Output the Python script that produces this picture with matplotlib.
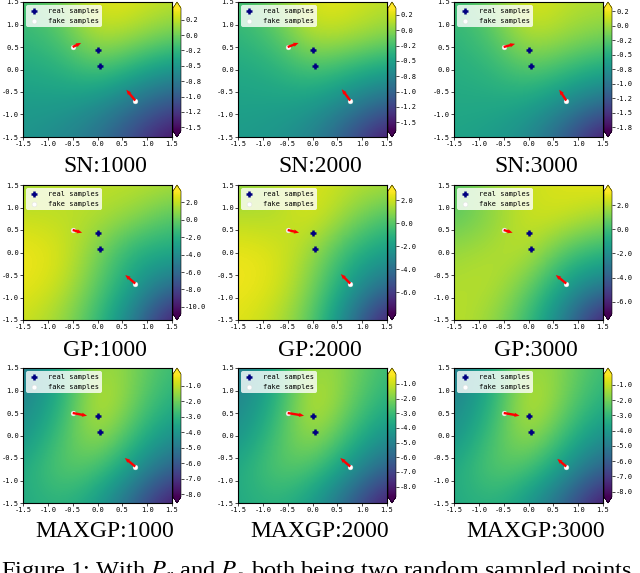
import numpy as np
import matplotlib
matplotlib.use('Agg')
import matplotlib.pyplot as plt
from matplotlib.ticker import MultipleLocator, FormatStrFormatter

# coarse grid of the discriminator value
grid_x = [-1.5, -0.75, 0.0, 0.75, 1.5]
grid_y = [1.5, 0.75, 0.0, -0.75, -1.5]

sn1000 = [[-0.16, 0.00, 0.38, 0.34, 0.24],
          [-0.24, -0.12, 0.24, 0.14, 0.00],
          [-0.36, -0.30, -0.12, -0.32, -0.52],
          [-0.46, -0.46, -0.56, -0.80, -1.06],
          [-0.52, -0.62, -0.80, -1.16, -1.52]]
sn2000 = [[-0.28, -0.04, 0.30, 0.26, 0.16],
          [-0.34, -0.20, 0.16, 0.12, 0.00],
          [-0.44, -0.38, -0.20, -0.34, -0.48],
          [-0.50, -0.50, -0.54, -0.74, -1.00],
          [-0.54, -0.60, -0.74, -1.14, -1.58]]
sn3000 = [[-0.38, -0.16, 0.24, 0.09, 0.05],
          [-0.44, -0.29, 0.09, -0.02, -0.12],
          [-0.50, -0.44, -0.23, -0.38, -0.54],
          [-0.54, -0.54, -0.59, -0.80, -1.07],
          [-0.59, -0.65, -0.80, -1.22, -1.75]]
gp1000 = [[1.2, 1.9, 1.9, 1.9, 1.6],
          [2.2, 1.9, 1.6, 0.8, -0.65],
          [3.0, 2.6, 0.5, -2.05, -2.3],
          [2.9, 2.2, -0.2, -3.0, -5.9],
          [2.2, 1.2, -1.2, -5.2, -10.4]]
gp2000 = [[0.9, 1.5, 2.3, 1.7, 1.5],
          [1.7, 1.5, 2.3, 0.9, -0.4],
          [2.5, 2.3, 1.2, -0.9, -2.0],
          [2.6, 2.3, 0.7, -2.0, -4.2],
          [2.3, 1.7, 0.1, -3.6, -7.6]]
gp3000 = [[0.31, 1.63, 2.34, 2.64, 2.85],
          [0.61, 1.32, 2.44, 2.34, 1.63],
          [1.63, 1.93, 2.14, 0.31, -0.40],
          [1.93, 2.14, 0.92, -1.42, -2.94],
          [2.14, 1.63, -0.10, -2.94, -6.70]]
maxgp1000 = [[-5.0, -3.4, -1.2, -1.85, -2.8],
             [-4.6, -3.3, -0.66, -2.0, -3.3],
             [-4.2, -2.6, -1.2, -2.8, -4.2],
             [-3.4, -2.2, -2.5, -4.06, -5.8],
             [-3.4, -3.0, -3.8, -5.8, -8.0]]
maxgp2000 = [[-5.35, -3.68, -1.33, -2.00, -3.00],
             [-4.93, -3.51, -0.75, -2.17, -3.51],
             [-4.52, -2.84, -1.33, -3.00, -4.52],
             [-3.68, -2.42, -2.67, -4.35, -6.19],
             [-3.68, -3.26, -4.10, -6.19, -8.53]]
maxgp3000 = [[-5.13, -3.52, -1.27, -1.91, -2.88],
             [-4.73, -3.36, -0.70, -2.07, -3.36],
             [-4.33, -2.72, -1.27, -2.88, -4.33],
             [-3.52, -2.31, -2.55, -4.16, -5.94],
             [-3.52, -3.12, -4.08, -5.94, -8.19]]

titles = ['SN:1000', 'SN:2000', 'SN:3000',
          'GP:1000', 'GP:2000', 'GP:3000',
          'MAXGP:1000', 'MAXGP:2000', 'MAXGP:3000']
fields = [sn1000, sn2000, sn3000, gp1000, gp2000, gp3000, maxgp1000, maxgp2000, maxgp3000]
vmins = [-1.56, -1.64, -1.81, -10.8, -7.9, -7.0, -8.17, -8.7, -8.35]
vmaxs = [0.44, 0.36, 0.30, 3.3, 2.8, 3.15, -0.26, -0.33, -0.30]
cbar_steps = [0.25, 0.25, 0.25, 2.0, 2.0, 2.0, 1.0, 1.0, 1.0]

real_x = [0.0, 0.06]
real_y = [0.43, 0.07]
fake_x = [-0.5, 0.76]
fake_y = [0.5, -0.69]

# gradient arrows on the two fake samples
grad_dx = [[0.17, -0.18], [0.22, -0.17], [0.23, -0.14],
           [0.19, -0.20], [0.23, -0.19], [0.18, -0.21],
           [0.29, -0.21], [0.33, -0.20], [0.32, -0.18]]
grad_dy = [[0.09, 0.24], [0.09, 0.25], [0.07, 0.24],
           [-0.06, 0.19], [-0.06, 0.21], [-0.06, 0.19],
           [-0.06, 0.19], [-0.06, 0.19], [-0.06, 0.17]]

W, H = 640, 573
col_left = [23, 238, 454]
row_top = [2, 185, 368]
ax_w, ax_h = 149, 135
title_base = [172, 356, 537]

plt.rcParams['axes.unicode_minus'] = False
plt.rcParams['mathtext.fontset'] = 'stix'


def px_axes(fig, left, top, width, height):
    return fig.add_axes([left / W, 1 - (top + height) / H, width / W, height / H])


def draw_panel(fig, i):
    r, c = divmod(i, 3)
    ax = px_axes(fig, col_left[c], row_top[r], ax_w, ax_h)
    cax = px_axes(fig, col_left[c] + ax_w + 1, row_top[r], 8, ax_h)

    h = 0.375
    im = ax.imshow(np.array(fields[i]), cmap='viridis', vmin=vmins[i], vmax=vmaxs[i],
                   extent=[grid_x[0] - h, grid_x[-1] + h, grid_y[-1] - h, grid_y[0] + h],
                   origin='upper', interpolation='bicubic', aspect='auto')
    ax.scatter(real_x, real_y, marker='+', s=22, linewidths=1.8, color='navy',
               label='real samples', zorder=5)
    ax.scatter(fake_x, fake_y, marker='o', s=12, color='white', edgecolors='#dddddd',
               linewidths=0.3, label='fake samples', zorder=3)
    ax.quiver(fake_x, fake_y, grad_dx[i], grad_dy[i], angles='xy', scale_units='xy',
              scale=1, color='red', width=0.016, headwidth=1.8, headlength=2.2,
              headaxislength=2.0, zorder=4)
    ax.set_xlim(-1.5, 1.5)
    ax.set_ylim(-1.5, 1.5)
    ticks = [-1.5, -1.0, -0.5, 0.0, 0.5, 1.0, 1.5]
    ax.set_xticks(ticks)
    ax.set_yticks(ticks)
    ax.xaxis.set_major_formatter(FormatStrFormatter('%.1f'))
    ax.yaxis.set_major_formatter(FormatStrFormatter('%.1f'))
    for lab in ax.get_xticklabels() + ax.get_yticklabels():
        lab.set_family('DejaVu Sans Mono')
        lab.set_fontsize(5)
    ax.tick_params(length=2, width=0.5, pad=1)

    leg = ax.legend(loc='upper left', prop={'family': 'DejaVu Sans Mono', 'size': 5},
                    borderpad=0.4, handletextpad=1.2, labelspacing=0.5,
                    framealpha=0.8, borderaxespad=0.5, handlelength=1.5)
    leg.get_frame().set_linewidth(0)

    cb = fig.colorbar(im, cax=cax, extend='both')
    cb.locator = MultipleLocator(cbar_steps[i])
    cb.formatter = FormatStrFormatter('%.1f')
    cb.update_ticks()
    cb.outline.set_linewidth(0.4)
    cax.tick_params(length=2, width=0.5, pad=1, labelsize=5)
    for lab in cax.get_yticklabels():
        lab.set_family('DejaVu Sans Mono')

    fig.text((col_left[c] + 82) / W, 1 - title_base[r] / H, titles[i],
             family='Liberation Serif', fontsize=17, ha='center', va='baseline')


def main():
    fig = plt.figure(figsize=(W / 100, H / 100), dpi=100)
    for i in range(9):
        draw_panel(fig, i)
    # caption is cut at the bottom edge in the original screenshot
    fig.text(1 / W, 1 - 578 / H,
             'Figure 1: With $P_r$ and $P_g$ both being two random sampled points',
             family='Liberation Serif', fontsize=17.6, ha='left', va='baseline')
    fig.savefig('out.png', dpi=100)


if __name__ == "__main__":
    main()
